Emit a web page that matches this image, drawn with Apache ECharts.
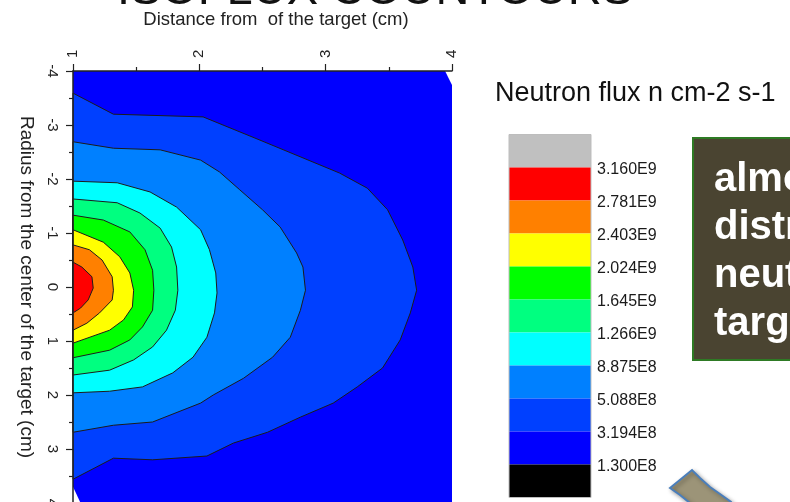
<!DOCTYPE html>
<html><head><meta charset="utf-8">
<script src="https://cdn.jsdelivr.net/npm/echarts@6/dist/echarts.min.js"></script>
<style>html,body{margin:0;padding:0;background:#fff}#c{width:790px;height:502px}</style>
</head><body><div id="c"></div>
<script>
// ---------- DATA ----------
// x = distance from the target (cm), r = radius from the center of the target (cm)
const fieldOutline = [[1,-4],[3.945,-4],[4,-3.74],[4,4],[1.06,4],[1,3.70]];
const contour3194E8 = [[1.00,-3.59],[1.32,-3.20],[2.03,-3.15],[2.48,-2.72],[3.11,-2.11],[3.33,-1.83],[3.49,-1.43],[3.61,-0.87],[3.69,-0.37],[3.72,0.06],[3.67,0.48],[3.59,0.98],[3.45,1.50],[3.25,1.85],[3.06,2.15],[2.80,2.41],[2.54,2.69],[2.27,2.89],[2.06,3.13],[1.63,3.20],[1.32,3.17],[1.00,3.56]];
const contour5088E8 = [[1.00,-2.69],[1.32,-2.57],[1.69,-2.54],[2.01,-2.35],[2.16,-2.13],[2.32,-1.80],[2.50,-1.43],[2.64,-1.11],[2.77,-0.63],[2.82,-0.37],[2.84,0.06],[2.80,0.43],[2.72,0.93],[2.58,1.30],[2.35,1.69],[2.11,2.00],[2.01,2.15],[1.63,2.50],[1.32,2.56],[1.00,2.69]];
const contour8875E8 = [[1.00,-1.96],[1.35,-1.93],[1.61,-1.76],[1.82,-1.48],[2.01,-1.06],[2.08,-0.69],[2.13,-0.26],[2.14,0.11],[2.12,0.48],[2.06,0.93],[1.95,1.30],[1.79,1.59],[1.55,1.85],[1.29,1.93],[1.00,1.96]];
const contour1266E9 = [[1.00,-1.63],[1.35,-1.56],[1.53,-1.37],[1.69,-1.09],[1.78,-0.74],[1.82,-0.37],[1.83,0.06],[1.81,0.43],[1.74,0.80],[1.63,1.11],[1.48,1.35],[1.29,1.54],[1.00,1.63]];
const contour1645E9 = [[1.00,-1.33],[1.24,-1.24],[1.45,-1.02],[1.57,-0.69],[1.63,-0.31],[1.64,0.06],[1.63,0.43],[1.55,0.74],[1.45,0.98],[1.29,1.17],[1.00,1.31]];
const contour2024E9 = [[1.00,-1.06],[1.24,-0.83],[1.37,-0.56],[1.45,-0.26],[1.48,0.06],[1.47,0.37],[1.40,0.61],[1.29,0.80],[1.00,1.04]];
const contour2403E9 = [[1.00,-0.78],[1.13,-0.69],[1.23,-0.50],[1.31,-0.19],[1.32,0.06],[1.31,0.24],[1.21,0.48],[1.11,0.67],[1.00,0.80]];
const contour2781E9 = [[1.00,-0.46],[1.07,-0.37],[1.15,-0.19],[1.16,0.02],[1.12,0.24],[1.06,0.39],[1.00,0.48]];
const legendLabels = ['3.160E9','2.781E9','2.403E9','2.024E9','1.645E9','1.266E9','8.875E8','5.088E8','3.194E8','1.300E8'];
const titleText = 'ISOFLUX COUNTOURS';
const xAxisTitle = 'Distance from  of the target (cm)';
const yAxisTitle = 'Radius from the center of the target (cm)';
const legendTitle = 'Neutron flux n cm-2 s-1';
const boxLines = ['almost', 'distribution', 'neutrons', 'target'];

// ---------- STYLE ----------
const FONT = '"Liberation Sans", Arial, sans-serif';
const swatchColors = ['#C0C0C0','#FF0000','#FF8000','#FFFF00','#00FF00','#00FF80','#00FFFF','#0080FF','#0040FF','#0000FF','#000000'];
const regions = [
  {pts: fieldOutline,  fill: '#0000FF', line: false},
  {pts: contour3194E8, fill: '#0040FF', line: true},
  {pts: contour5088E8, fill: '#0080FF', line: true},
  {pts: contour8875E8, fill: '#00FFFF', line: true},
  {pts: contour1266E9, fill: '#00FF80', line: true},
  {pts: contour1645E9, fill: '#00FF00', line: true},
  {pts: contour2024E9, fill: '#FFFF00', line: true},
  {pts: contour2403E9, fill: '#FF8000', line: true},
  {pts: contour2781E9, fill: '#FF0000', line: true}
];

const series = regions.map(function (reg) {
  return {
    type: 'custom', coordinateSystem: 'cartesian2d', silent: true,
    data: reg.pts, encode: {x: 0, y: 1},
    renderItem: function (params, api) {
      if (params.dataIndex !== 0) return null;
      const points = reg.pts.map(function (p) { return api.coord(p); });
      return {
        type: 'polygon', shape: {points: points},
        style: {fill: reg.fill, stroke: reg.line ? '#1c1c1c' : null, lineWidth: reg.line ? 1 : 0}
      };
    }
  };
});

// legend graphics
const swTop = 134.5, swH = 33, swX = 509, swW = 82;
const graphics = [];
swatchColors.forEach(function (c, i) {
  graphics.push({type: 'rect', silent: true, shape: {x: swX, y: swTop + i * swH, width: swW, height: swH}, style: {fill: c}});
});
graphics.push({type: 'rect', silent: true, shape: {x: swX, y: swTop, width: swW, height: swH * swatchColors.length}, style: {fill: null, stroke: '#bdbdbd', lineWidth: 1}});
legendLabels.forEach(function (t, i) {
  graphics.push({type: 'text', silent: true, x: 597, y: swTop + (i + 1) * swH + 2,
    style: {text: t, fill: '#1a1a1a', font: '16px ' + FONT, align: 'left', verticalAlign: 'middle', textAlign: 'left', textVerticalAlign: 'middle'}});
});
graphics.push({type: 'text', silent: true, x: 495, y: 94,
  style: {text: legendTitle, fill: '#111', font: '27px ' + FONT, align: 'left', verticalAlign: 'middle', textAlign: 'left', textVerticalAlign: 'middle'}});
// title & x-axis title
graphics.push({type: 'text', silent: true, x: 375, y: -8.5,
  style: {text: titleText, fill: '#111', font: '47px ' + FONT, align: 'center', verticalAlign: 'middle', textAlign: 'center', textVerticalAlign: 'middle'}});
graphics.push({type: 'text', silent: true, x: 276, y: 20,
  style: {text: xAxisTitle, fill: '#222', font: '18.5px ' + FONT, align: 'center', verticalAlign: 'middle', textAlign: 'center', textVerticalAlign: 'middle'}});
// text box
graphics.push({type: 'rect', silent: true, shape: {x: 693, y: 138, width: 140, height: 222},
  style: {fill: '#4A4431', stroke: '#2E7A24', lineWidth: 2}});
boxLines.forEach(function (t, i) {
  graphics.push({type: 'text', silent: true, x: 714, y: 180 + i * 48,
    style: {text: t, fill: '#ffffff', font: 'bold 40px ' + FONT, align: 'left', verticalAlign: 'middle', textAlign: 'left', textVerticalAlign: 'middle'}});
});
// curved arrow fragment
graphics.push({type: 'polygon', silent: true,
  shape: {points: [[670,488],[692,470],[700,478],[710,487],[720,494],[731,502],[735,512],[700,514],[690,503],[680,495]]},
  style: {fill: '#9C9478', stroke: '#4A7EBB', lineWidth: 2, shadowBlur: 4, shadowColor: 'rgba(0,0,0,0.35)', shadowOffsetX: 2, shadowOffsetY: 2}});

const axisCommon = {
  axisLine: {show: true, onZero: false, lineStyle: {color: '#222', width: 1.5}},
  axisTick: {show: true, length: 7, lineStyle: {color: '#222', width: 1.2}},
  minorTick: {show: true, splitNumber: 2, length: 4, lineStyle: {color: '#222', width: 1.2}},
  splitLine: {show: false}, minorSplitLine: {show: false}, z: 10
};

const option = {
  animation: false,
  backgroundColor: '#ffffff',
  grid: {left: 73, top: 71, width: 379, height: 432, containLabel: false, outerBoundsMode: 'none'},
  xAxis: Object.assign({
    type: 'value', position: 'top', min: 1, max: 4, interval: 1,
    axisLabel: {rotate: -90, margin: 13, fontSize: 15, color: '#222', fontFamily: FONT}
  }, axisCommon),
  yAxis: Object.assign({
    type: 'value', inverse: true, min: -4, max: 4, interval: 1,
    name: yAxisTitle, nameLocation: 'middle', nameRotate: -90, nameGap: 37,
    nameTextStyle: {fontSize: 19, color: '#222', fontFamily: FONT},
    axisLabel: {rotate: -90, margin: 13.5, fontSize: 15, color: '#222', fontFamily: FONT, showMaxLabel: true, showMinLabel: true}
  }, axisCommon),
  graphic: graphics,
  series: series
};
const chart = echarts.init(document.getElementById('c'), null, {renderer: 'canvas'});
chart.setOption(option);
</script></body></html>
